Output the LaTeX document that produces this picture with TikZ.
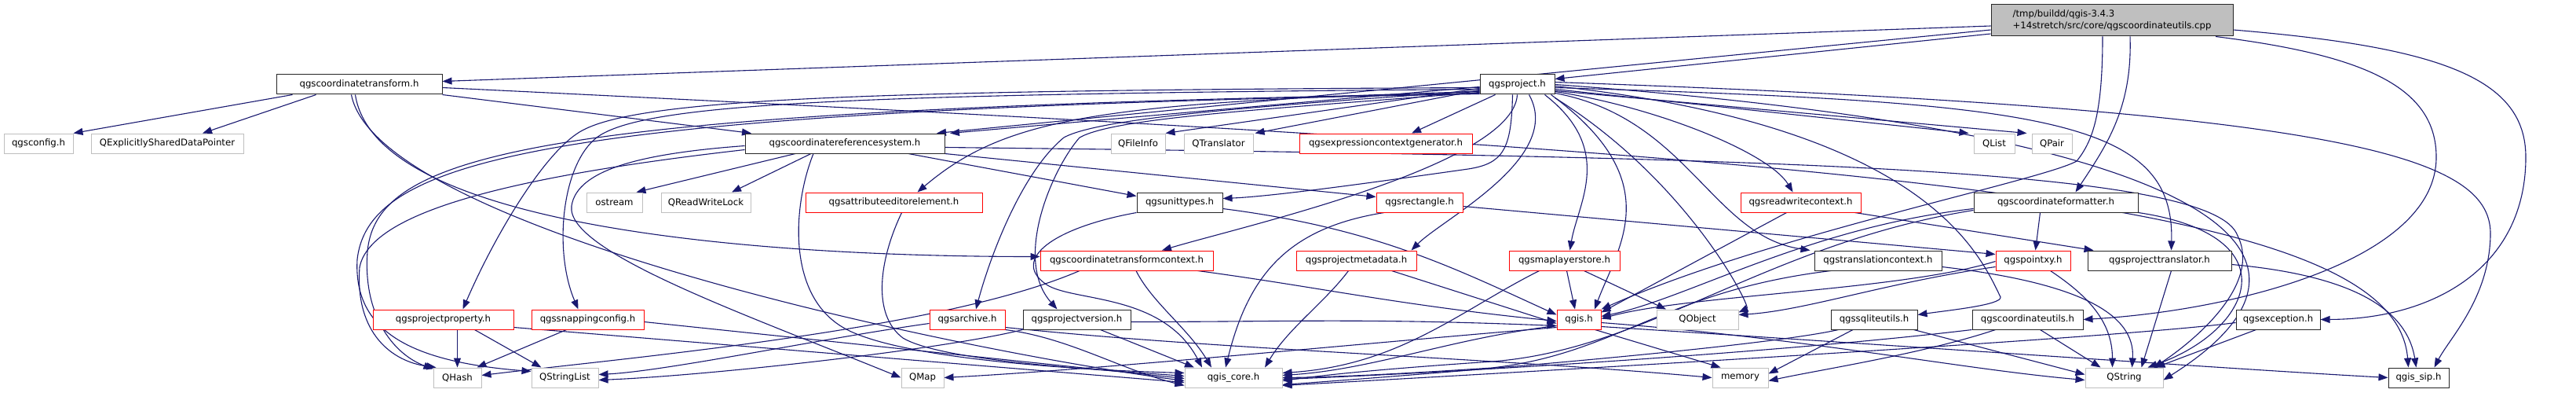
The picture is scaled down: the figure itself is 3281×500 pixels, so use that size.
\documentclass[tikz,border=0pt]{standalone}
\usepackage{fontspec}
\setmainfont{DejaVu Sans}
\usetikzlibrary{arrows.meta}
\definecolor{ec}{HTML}{191970}
\definecolor{gb}{HTML}{BFBFBF}
\definecolor{rb}{HTML}{FF0000}
\pgfdeclarelayer{bg}
\pgfsetlayers{bg,main}
\tikzset{
  box/.style={line width=1pt, fill=white, minimum height=25pt, inner sep=0pt, font=\fontsize{11.7pt}{15pt}\selectfont},
  blk/.style={box, draw=black!85},
  redb/.style={box, draw=rb},
  gry/.style={box, draw=gb},
  rootst/.style={box, draw=black!85, fill=gb, minimum height=40pt, align=left},
  e/.style={draw=ec, line width=1.1pt, -{Triangle[length=12pt,width=9pt]}}
}
\begin{document}
\begin{tikzpicture}[x=1pt,y=1pt]
\useasboundingbox (0,0) rectangle (3281,-500);
% nodes
\node[rootst, minimum width=308pt] (root) at (2690,-26) {/tmp/buildd/qgis-3.4.3\\+14stretch/src/core/qgscoordinateutils.cpp};
\node[blk, minimum width=211pt] (ct) at (457.5,-107.5) {qgscoordinatetransform.h};
\node[blk, minimum width=95pt] (proj) at (1932.5,-107.5) {qgsproject.h};
\node[gry, minimum width=88pt] (cfg) at (49,-182.5) {qgsconfig.h};
\node[gry, minimum width=194pt] (esdp) at (213,-182.5) {QExplicitlySharedDataPointer};
\node[blk, minimum width=254pt] (crs) at (1076,-182.5) {qgscoordinatereferencesystem.h};
\node[gry, minimum width=69pt] (finfo) at (1449.5,-182.5) {QFileInfo};
\node[gry, minimum width=88pt] (qtr) at (1552,-182.5) {QTranslator};
\node[redb, minimum width=220pt] (ecg) at (1765,-182.5) {qgsexpressioncontextgenerator.h};
\node[gry, minimum width=52pt] (qlist) at (2540,-182.5) {QList};
\node[gry, minimum width=51pt] (qpair) at (2613.5,-182.5) {QPair};
\node[gry, minimum width=71pt] (ostr) at (782.5,-257.5) {ostream};
\node[gry, minimum width=114pt] (rwl) at (899,-257.5) {QReadWriteLock};
\node[redb, minimum width=225pt] (aee) at (1138.5,-257.5) {qgsattributeeditorelement.h};
\node[blk, minimum width=109pt] (unit) at (1502.5,-257.5) {qgsunittypes.h};
\node[redb, minimum width=110pt] (rect) at (1808,-257.5) {qgsrectangle.h};
\node[redb, minimum width=153pt] (rwc) at (2293.5,-257.5) {qgsreadwritecontext.h};
\node[blk, minimum width=209pt] (cfmt) at (2618.5,-257.5) {qgscoordinateformatter.h};
\node[redb, minimum width=220pt] (ctc) at (1435,-331.5) {qgscoordinatetransformcontext.h};
\node[redb, minimum width=153pt] (pmeta) at (1727.5,-331.5) {qgsprojectmetadata.h};
\node[redb, minimum width=141pt] (mls) at (1992.5,-331.5) {qgsmaplayerstore.h};
\node[blk, minimum width=162pt] (trc) at (2392,-331.5) {qgstranslationcontext.h};
\node[redb, minimum width=95pt] (pxy) at (2589.5,-331.5) {qgspointxy.h};
\node[blk, minimum width=183pt] (ptr) at (2750.5,-331.5) {qgsprojecttranslator.h};
\node[redb, minimum width=179pt] (pprop) at (564.5,-406.5) {qgsprojectproperty.h};
\node[redb, minimum width=143pt] (snap) at (748.5,-406.5) {qgssnappingconfig.h};
\node[redb, minimum width=96pt] (arch) at (1232,-406.5) {qgsarchive.h};
\node[blk, minimum width=137pt] (pver) at (1371.5,-406.5) {qgsprojectversion.h};
\node[redb, minimum width=56pt] (qgis) at (2011,-406.5) {qgis.h};
\node[gry, minimum width=104pt] (qobj) at (2162,-406.5) {QObject};
\node[blk, minimum width=110pt] (sqlu) at (2387,-406.5) {qgssqliteutils.h};
\node[blk, minimum width=141pt] (cutil) at (2582.5,-406.5) {qgscoordinateutils.h};
\node[blk, minimum width=107pt] (exc) at (2901.5,-406.5) {qgsexception.h};
\node[gry, minimum width=61pt] (qhash) at (582.5,-480.5) {QHash};
\node[gry, minimum width=85pt] (qsl) at (719.5,-480.5) {QStringList};
\node[gry, minimum width=54pt] (qmap) at (1175,-480.5) {QMap};
\node[gry, minimum width=124pt] (core) at (1571,-480.5) {qgis\_core.h};
\node[gry, minimum width=71pt] (mem) at (2216.5,-480.5) {memory};
\node[gry, minimum width=99pt] (qstr) at (2705.5,-480.5) {QString};
\node[blk, minimum width=77pt] (sip) at (3080.5,-480.5) {qgis\_sip.h};
\begin{pgfonlayer}{bg}
\fill[white] (0,0) rectangle (3281,-500);
% root
\draw[e] ([yshift=-7pt]root.west) -- ([yshift=4pt]ct.east);
\draw[e] ([yshift=-12pt]root.west) -- ([xshift=117pt]crs.north);
\draw[e] ([yshift=-17pt]root.west) -- ([yshift=7pt]proj.east);
\draw[e] ([xshift=23pt]root.south) .. controls +(3,-90) and +(40,60) .. ([xshift=25pt]cfmt.north);
\draw[e] ([xshift=-12pt]root.south) .. controls +(0,-100) and (2665,-180) .. (2645,-205) .. controls (2600,-230) and (2250,-300) .. (qgis.north east);
\draw[e] ([xshift=132pt]root.south) .. controls (3010,-70) and (3103,-110) .. (3103,-200) .. controls (3103,-330) and (2850,-395) .. (cutil.east);
\draw[e] ([yshift=-12pt]root.east) .. controls (3110,-60) and (3217,-100) .. (3217,-200) .. controls (3217,-340) and (3100,-406) .. (exc.east);
% ct
\draw[e] ([xshift=-85pt]ct.south) -- (cfg.north east);
\draw[e] ([xshift=-55pt]ct.south) -- ([xshift=45pt]esdp.north);
\draw[e] (ct.south east) -- ([xshift=-119pt]crs.north);
\draw[e] ([xshift=-5pt]ct.south) .. controls (480,-300) and (1025,-326.5) .. ([yshift=5pt]ctc.west);
\draw[e] ([xshift=-10pt]ct.south) .. controls (480,-290) and (1209,-444.5) .. ([yshift=-4pt]core.west);
\draw[e] ([yshift=-4pt]ct.east) .. controls (2400,-200) and (3050,-250) .. ([xshift=-13pt]sip.north);
% crs
\draw[e] ([xshift=-63pt]crs.south) -- ([xshift=-8pt]ostr.north east);
\draw[e] ([xshift=-43pt]crs.south) -- ([xshift=33pt]rwl.north);
\draw[e] ([xshift=81pt]crs.south) -- ([yshift=8pt]unit.west);
\draw[e] (crs.south east) -- ([yshift=7pt]rect.west);
\draw[e] ([yshift=-3pt]crs.west) .. controls (820,-195) and (735,-215) .. (728,-262) .. controls (720,-320) and (950,-400) .. (qmap.west);
\draw[e] ([yshift=-8pt]crs.west) .. controls (600,-230) and (470,-280) .. (458,-340) .. controls (452,-425) and (500,-460) .. ([xshift=4pt]qhash.north west);
\draw[e] ([xshift=-40pt]crs.south) .. controls (1010,-260) and (1000,-380) .. (1080,-420) .. controls (1150,-455) and (1350,-470) .. ([yshift=6pt]core.west);
\draw[e] ([yshift=-5pt]crs.east) .. controls (2300,-200) and (2820,-215) .. (2850,-300) .. controls (2880,-360) and (2800,-430) .. ([xshift=38pt]qstr.north);
% unit
\draw[e] (unit.south west) .. controls (1340,-290) and (1290,-330) .. (1330,-360) .. controls (1360,-385) and (1480,-370) .. ([xshift=-40pt]core.north);
\draw[e] ([yshift=-8pt]unit.east) .. controls (1750,-290) and (1850,-340) .. ([yshift=6pt]qgis.west);
% aee
\draw[e] ([xshift=10pt]aee.south) .. controls (1120,-330) and (1110,-400) .. (1150,-430) .. controls (1200,-460) and (1400,-470) .. ([yshift=2pt]core.west);
% rect
\draw[e] ([xshift=-45pt]rect.south) .. controls (1640,-290) and (1590,-350) .. ([xshift=-10pt]core.north);
\draw[e] ([yshift=-5pt]rect.east) -- ([yshift=8pt]pxy.west);
% ctc
\draw[e] ([xshift=12pt]ctc.south) .. controls +(20,-40) and +(-30,50) .. ([xshift=-28pt]core.north);
\draw[e] ([xshift=-20pt]ctc.south east) .. controls +(150,-20) and +(-200,20) .. ([yshift=-2pt]qgis.west);
\draw[e] ([xshift=-60pt]ctc.south) .. controls (1200,-420) and (800,-455) .. ([yshift=3pt]qhash.east);
% pmeta
\draw[e] ([xshift=-10pt]pmeta.south) .. controls +(-30,-40) and +(30,50) .. ([xshift=40pt]core.north);
\draw[e] ([xshift=45pt]pmeta.south) -- ([yshift=-5pt]qgis.west);
% mls
\draw[e] ([xshift=3pt]mls.south) -- ([xshift=-5pt]qgis.north);
\draw[e] ([xshift=25pt]mls.south) -- ([xshift=-40pt]qobj.north);
\draw[e] ([xshift=-32pt]mls.south) .. controls +(-100,-50) and +(150,10) .. ([yshift=6pt]core.east);
% qgis
\draw[e] ([yshift=-8pt]qgis.west) .. controls (1850,-430) and (1750,-470) .. ([yshift=3pt]core.east);
\draw[e] ([yshift=-10pt]qgis.west) .. controls (1700,-440) and (1400,-470) .. (qmap.east);
\draw[e] ([xshift=-8pt]qgis.south east) -- ([xshift=-25pt]mem.north);
\draw[e] ([yshift=-4pt]qgis.east) .. controls (2300,-430) and (2500,-470) .. ([yshift=-3pt]qstr.west);
\draw[e] ([yshift=-9pt]qgis.east) .. controls (2500,-445) and (2850,-470) .. (sip.west);
% pprop
\draw[e] ([xshift=18pt]pprop.south) -- (qhash.north);
\draw[e] ([xshift=40pt]pprop.south) -- ([xshift=-30pt]qsl.north);
\draw[e] ([yshift=3pt]pprop.south east) -- ([yshift=-6pt]core.west);
% snap
\draw[e] ([xshift=-27pt]snap.south) -- ([xshift=25pt]qhash.north);
\draw[e] ([yshift=-3pt]snap.east) -- ([yshift=-1pt]core.west);
% arch
\draw[e] ([yshift=-5pt]arch.west) .. controls (1050,-430) and (850,-472) .. ([yshift=4pt]qsl.east);
\draw[e] (arch.south east) .. controls +(80,-10) and +(-80,20) .. ([yshift=-10pt]core.west);
\draw[e] ([yshift=3pt]arch.south east) .. controls (1550,-445) and (1900,-455) .. (mem.west);
% pver
\draw[e] ([xshift=30pt]pver.south) -- ([xshift=-50pt]core.north);
\draw[e] (pver.south west) .. controls (1200,-445) and (900,-478) .. ([yshift=-3pt]qsl.east);
\draw[e] ([yshift=-3pt]pver.east) .. controls +(200,0) and +(-250,10) .. ([yshift=-8pt]qgis.west);
% rwc
\draw[e] ([xshift=-18pt]rwc.south) -- ([yshift=9pt]qgis.east);
\draw[e] ([xshift=-8pt]rwc.south east) -- ([xshift=8pt]ptr.north west);
% cfmt
\draw[e] ([xshift=-20pt]cfmt.south) -- ([xshift=3pt]pxy.north);
\draw[e] ([yshift=-8pt]cfmt.west) .. controls (2300,-290) and (2150,-380) .. ([yshift=4pt]qgis.east);
\draw[e] ([yshift=-10pt]cfmt.west) .. controls (2250,-310) and (2100,-445) .. (1900,-460) .. controls (1750,-470) and (1680,-478) .. ([yshift=-4pt]core.east);
\draw[e] (cfmt.south east) .. controls (2920,-300) and (2870,-420) .. ([xshift=30pt]qstr.north);
% trc
\draw[e] ([xshift=-60pt]trc.south) .. controls (2120,-370) and (2060,-450) .. (1900,-468) .. controls (1750,-478) and (1680,-480) .. (core.east);
\draw[e] ([yshift=-8pt]trc.east) .. controls (2650,-360) and (2720,-400) .. ([xshift=10pt]qstr.north);
% pxy
\draw[e] ([yshift=-8pt]pxy.west) .. controls (2400,-360) and (2300,-395) .. ([yshift=6pt]qobj.east);
\draw[e] ([yshift=-1pt]pxy.west) .. controls (2420,-370) and (2150,-375) .. ([yshift=1pt]qgis.east);
\draw[e] ([xshift=22pt]pxy.south) .. controls +(45,-30) and +(0,60) .. ([xshift=-15pt]qstr.north);
% ptr
\draw[e] ([xshift=15pt]ptr.south) -- ([xshift=22pt]qstr.north);
\draw[e] ([yshift=-5pt]ptr.east) .. controls (2990,-350) and (3065,-390) .. ([xshift=-3pt]sip.north);
% sqlu
\draw[e] ([xshift=-27pt]sqlu.south) -- ([yshift=5pt]mem.east);
\draw[e] ([xshift=-5pt]sqlu.south east) -- ([yshift=4pt]qstr.west);
\draw[e] ([xshift=10pt]sqlu.south west) .. controls (2250,-440) and (1900,-470) .. ([yshift=-9pt]core.east);
% cutil
\draw[e] ([xshift=16pt]cutil.south) -- ([xshift=-30pt]qstr.north);
\draw[e] (cutil.south west) .. controls (2300,-445) and (1900,-472) .. ([yshift=-2pt]core.east);
\draw[e] ([xshift=30pt]cutil.south west) .. controls (2450,-450) and (2320,-470) .. ([yshift=-4pt]mem.east);
% exc
\draw[e] ([xshift=-28pt]exc.south) -- ([xshift=40pt]qstr.north);
\draw[e] ([yshift=-4pt]exc.west) .. controls (2700,-430) and (2000,-470) .. ([yshift=-10pt]core.east);
% proj
\draw[e] ([yshift=-3pt]proj.west) -- ([xshift=134pt]crs.north);
\draw[e] ([yshift=-5pt]proj.west) -- (finfo.north east);
\draw[e] ([yshift=-7pt]proj.west) -- ([xshift=2pt]qtr.north east);
\draw[e] ([xshift=-28pt]proj.south) -- ([xshift=33pt]ecg.north);
\draw[e] ([yshift=-6pt]proj.east) -- ([xshift=-6pt]qlist.north west);
\draw[e] ([yshift=-8pt]proj.east) -- ([xshift=-6pt]qpair.north west);
\draw[e] ([xshift=-6pt]proj.south) .. controls (1925,-190) and (1915,-208) .. (1870,-215) .. controls (1750,-232) and (1620,-250) .. ([yshift=5pt]unit.east);
\draw[e] (proj.south) .. controls +(-5,-90) and +(100,30) .. ([xshift=45pt]ctc.north);
\draw[e] ([yshift=-9pt]proj.west) .. controls (1400,-130) and (1280,-150) .. ([xshift=30pt]aee.north);
\draw[e] ([yshift=-4pt]proj.west) .. controls (1100,-115) and (800,-125) .. (735,-170) .. controls (690,-200) and (630,-300) .. ([xshift=25pt]pprop.north);
\draw[e] ([yshift=-6pt]proj.west) .. controls (1100,-120) and (820,-130) .. (760,-175) .. controls (715,-210) and (705,-320) .. ([xshift=-12pt]snap.north);
\draw[e] ([yshift=-8pt]proj.west) .. controls (1600,-135) and (1400,-150) .. (1355,-175) .. controls (1300,-220) and (1260,-330) .. ([xshift=11pt]arch.north);
\draw[e] ([yshift=-10pt]proj.west) .. controls (1600,-140) and (1420,-150) .. (1375,-175) .. controls (1340,-215) and (1290,-330) .. ([xshift=-25pt]pver.north);
\draw[e] ([xshift=15pt]proj.south) .. controls +(45,-80) and +(40,40) .. ([xshift=70pt]pmeta.north);
\draw[e] ([xshift=35pt]proj.south) .. controls +(90,-70) and +(10,60) .. ([xshift=7pt]mls.north);
\draw[e] ([xshift=-5pt]proj.south east) .. controls +(150,-110) and +(30,80) .. ([xshift=20pt]qgis.north);
\draw[e] ([yshift=-9pt]proj.east) .. controls +(130,-20) and +(-30,50) .. ([xshift=-10pt]rwc.north);
\draw[e] ([yshift=-11pt]proj.east) .. controls (2150,-150) and (2180,-300) .. ([xshift=-5pt]trc.north west);
\draw[e] ([yshift=-4pt]proj.east) .. controls (2600,-130) and (2770,-150) .. ([xshift=15pt]ptr.north);
\draw[e] ([yshift=-2pt]proj.east) .. controls (2450,-160) and (2520,-320) .. (2548,-378) .. controls (2550,-388) and (2480,-395) .. ([yshift=6pt]sqlu.east);
\draw[e] ([yshift=-4pt]proj.south east) .. controls (2150,-230) and (2230,-390) .. ([yshift=9pt]qobj.east);
\draw[e] ([yshift=-11pt]proj.west) .. controls (700,-140) and (480,-190) .. (468,-320) .. controls (462,-400) and (500,-450) .. ([yshift=-2pt]qhash.north west);
\draw[e] ([yshift=-12pt]proj.west) .. controls (700,-140) and (470,-200) .. (455,-330) .. controls (450,-420) and (520,-460) .. ([yshift=8pt]qsl.west);
\draw[e] ([yshift=3pt]proj.east) .. controls (3000,-140) and (3175,-200) .. (3172,-300) .. controls (3170,-380) and (3120,-430) .. ([xshift=20pt]sip.north);
\draw[e] (proj.east) .. controls (2850,-170) and (3000,-330) .. ([yshift=-3pt]qstr.east);
\end{pgfonlayer}
\end{tikzpicture}
\end{document}
